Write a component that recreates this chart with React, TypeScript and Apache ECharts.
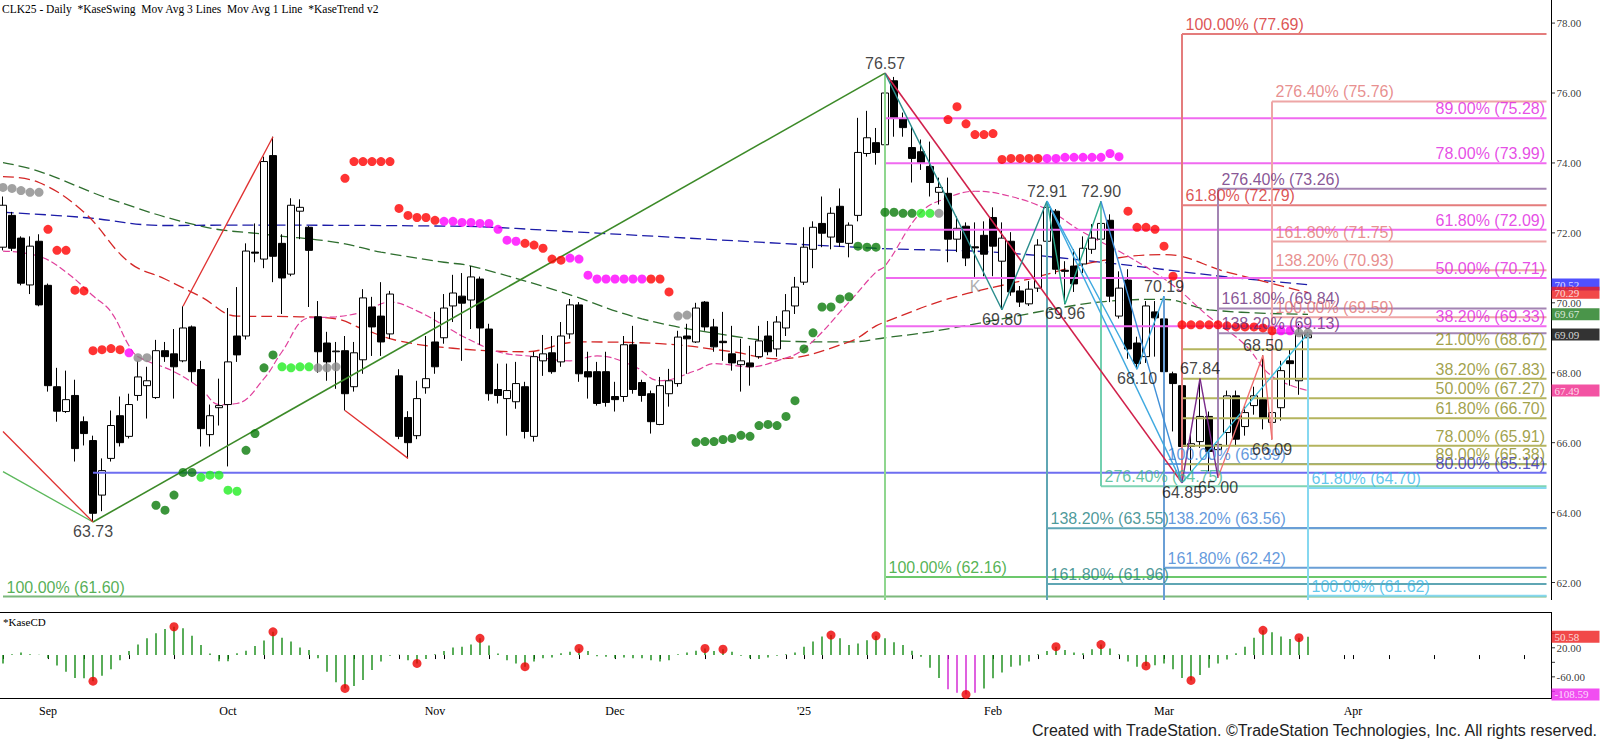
import { useEffect, useRef } from 'react'
import * as echarts from 'echarts'

// ---------- data ----------
const HOLIDAYS = ['2024-09-02', '2024-11-28', '2024-12-25', '2025-01-01', '2025-01-20', '2025-02-17']
const FUTURE_BARS = 26
const MONTHS = ['Jan', 'Feb', 'Mar', 'Apr', 'May', 'Jun', 'Jul', 'Aug', 'Sep', 'Oct', 'Nov', 'Dec']

// [open, high, low, close], one row per trading day from 2024-08-26 to 2025-03-25
const CANDLES: [number, number, number, number][] = [
  [71.59, 73.04, 71.5, 72.79], [72.5, 72.6, 71.48, 71.56], [71.85, 71.9, 70.5, 70.56], [70.51, 71.9, 70.25, 71.62], [71.76, 71.96, 69.9, 69.94],
  [70.5, 70.55, 67.46, 67.63], [67.6, 68.14, 66.6, 66.9], [66.89, 68.06, 66.85, 67.23], [67.35, 67.8, 65.46, 65.83], [66.6, 66.75, 65.92, 66.26],
  [66.06, 66.2, 63.73, 63.98], [64.5, 65.55, 64.04, 65.2], [65.55, 66.92, 65.46, 66.49], [66.77, 67.32, 65.89, 66.0], [66.18, 67.4, 66.12, 67.09],
  [67.35, 68.34, 67.2, 67.88], [67.63, 68.17, 66.69, 67.77], [67.29, 68.94, 67.25, 68.63], [68.63, 68.88, 68.31, 68.46], [68.54, 69.25, 67.26, 68.17],
  [68.34, 69.9, 68.3, 69.28], [69.31, 69.35, 67.74, 68.03], [68.09, 68.34, 65.89, 66.4], [66.23, 67.09, 65.89, 66.77], [67.0, 67.83, 66.49, 67.06],
  [67.09, 69.85, 65.32, 68.31], [69.05, 70.45, 68.31, 68.51], [69.05, 71.7, 68.95, 71.48], [71.45, 72.27, 71.16, 71.42], [71.25, 74.18, 70.99, 74.04],
  [74.21, 74.75, 70.59, 71.33], [71.7, 71.96, 69.68, 70.71], [70.82, 72.99, 70.76, 72.79], [72.62, 72.96, 71.82, 72.73], [72.16, 72.2, 69.88, 71.5],
  [69.6, 70.05, 68.0, 68.6], [68.85, 69.17, 67.77, 68.31], [68.6, 68.88, 67.54, 68.62], [68.63, 69.05, 66.92, 67.4], [67.6, 68.88, 67.46, 68.57],
  [68.37, 70.39, 67.97, 70.14], [69.88, 70.17, 68.48, 69.31], [69.62, 70.59, 68.48, 68.88], [69.11, 70.34, 68.97, 70.25], [67.91, 68.1, 66.1, 66.18],
  [66.72, 66.9, 65.55, 66.0], [66.2, 67.77, 66.1, 67.26], [67.57, 69.05, 67.4, 67.83], [68.88, 69.74, 67.97, 68.17], [69.0, 70.25, 68.83, 69.85],
  [69.91, 70.8, 69.45, 70.28], [70.19, 70.85, 68.34, 69.99], [70.08, 71.05, 69.25, 70.74], [70.68, 70.75, 68.8, 69.28], [69.25, 69.4, 67.2, 67.4],
  [67.52, 68.26, 67.12, 67.35], [67.26, 68.26, 66.2, 67.49], [67.17, 68.31, 66.97, 67.69], [67.6, 67.74, 66.12, 66.32], [66.18, 68.6, 66.03, 68.46],
  [68.34, 69.08, 67.91, 68.54], [68.57, 69.05, 67.97, 68.03], [68.31, 69.45, 68.17, 69.05], [69.11, 70.11, 68.97, 69.94], [69.94, 70.02, 67.74, 67.97],
  [68.03, 68.6, 67.26, 67.88], [68.03, 68.31, 67.06, 67.12], [68.03, 68.6, 67.03, 67.15], [67.32, 67.74, 66.89, 67.23], [67.32, 69.05, 67.17, 68.8],
  [68.8, 69.34, 67.4, 67.52], [67.72, 67.8, 67.17, 67.35], [67.4, 67.49, 66.26, 66.6], [66.52, 67.88, 66.5, 67.63], [67.4, 68.11, 67.03, 67.77],
  [67.69, 69.2, 67.6, 69.02], [69.05, 69.4, 67.97, 68.97], [68.88, 70.0, 68.85, 69.85], [70.02, 70.05, 69.2, 69.31], [69.31, 69.54, 68.6, 68.74],
  [68.9, 69.74, 68.34, 68.86], [68.54, 69.34, 68.06, 68.28], [68.23, 68.97, 67.46, 68.34], [68.28, 68.77, 67.63, 68.17], [68.46, 69.34, 68.4, 68.91],
  [69.05, 69.48, 68.5, 68.6], [68.68, 69.62, 68.46, 69.45], [69.28, 70.25, 69.05, 69.77], [69.91, 70.74, 69.68, 70.45], [70.59, 72.16, 70.51, 71.59],
  [71.53, 72.33, 70.99, 72.16], [72.27, 73.04, 71.59, 71.99], [71.88, 72.73, 71.53, 72.56], [72.76, 73.27, 71.6, 71.73], [71.7, 72.3, 71.3, 72.22],
  [72.5, 75.29, 72.33, 74.3], [74.27, 75.49, 74.18, 74.72], [74.58, 75.0, 73.95, 74.3], [74.52, 76.57, 74.18, 76.0], [76.35, 76.46, 74.75, 75.27],
  [75.27, 75.44, 74.75, 75.01], [74.44, 75.04, 73.44, 74.13], [74.32, 74.67, 73.8, 74.01], [73.9, 74.61, 73.04, 73.44], [73.16, 73.58, 72.81, 73.3],
  [73.13, 73.58, 71.16, 71.82], [71.82, 72.47, 71.45, 72.13], [72.19, 72.3, 71.05, 71.28], [71.6, 72.3, 70.74, 71.57], [71.93, 72.33, 70.76, 71.39],
  [72.44, 72.73, 70.76, 71.62], [71.19, 72.3, 69.8, 71.85], [71.76, 72.02, 70.2, 70.31], [70.34, 70.48, 69.88, 70.02], [69.97, 70.62, 69.91, 70.39],
  [70.42, 71.82, 70.31, 71.65], [71.76, 72.91, 71.6, 72.73], [72.62, 72.68, 70.82, 70.96], [70.93, 71.19, 69.96, 70.9], [71.05, 71.53, 70.31, 70.54],
  [71.11, 71.9, 70.85, 71.56], [71.53, 72.25, 71.4, 71.85], [71.82, 72.9, 71.7, 72.27], [72.36, 72.53, 70.02, 70.19], [69.62, 70.9, 69.55, 70.42],
  [70.65, 70.96, 68.4, 68.68], [68.85, 69.03, 68.1, 68.26], [68.46, 70.05, 68.28, 69.91], [69.74, 70.05, 68.46, 69.57], [69.54, 70.19, 67.54, 68.03],
  [67.97, 68.03, 66.32, 67.69], [67.63, 67.8, 64.85, 65.89], [65.89, 66.3, 65.2, 65.97], [66.03, 67.84, 65.85, 66.75], [66.75, 66.89, 65.18, 65.75],
  [65.8, 66.3, 65.0, 65.95], [66.29, 67.49, 65.9, 67.34], [67.34, 67.49, 65.9, 66.1], [66.46, 67.06, 66.2, 66.86], [67.06, 67.6, 66.8, 67.34],
  [67.23, 68.5, 66.38, 66.69], [66.58, 67.5, 66.09, 66.86], [67.0, 68.34, 66.63, 68.06], [68.34, 68.68, 67.63, 68.26], [67.77, 69.4, 67.37, 69.11],
  [69.0, 69.17, 68.49, 69.09],
]

// moving averages, [bar index, value]
const BLUE_MA = [[0, 72.59], [9, 72.44], [18, 72.21], [25, 72.22], [50, 72.19], [64, 72.02], [97, 71.56], [110, 71.45], [122, 71.16], [136, 70.74], [145, 70.52]]
const GREEN_MA = [[0, 74.01], [4, 73.76], [12, 72.96], [22, 72.19], [29, 71.96], [37, 71.73], [42, 71.45], [49, 71.16], [52, 71.05], [62, 70.31], [71, 69.54], [81, 69.05], [86, 68.91], [94, 68.88], [98, 69.0], [103, 69.17], [111, 69.54], [118, 69.88], [123, 70.05], [129, 70.1], [134, 69.8], [145, 69.67]]
const RED_MA = [[0, 73.61], [4, 73.44], [9, 72.59], [14, 71.16], [18, 70.68], [22, 70.17], [26, 69.62], [33, 69.6], [37, 69.54], [40, 69.25], [44, 68.91], [50, 68.7], [58, 68.6], [64, 68.88], [73, 68.83], [81, 68.6], [86, 68.4], [94, 68.88], [97, 69.34], [98, 69.45], [105, 70.11], [114, 70.68], [122, 71.2], [129, 71.38], [136, 70.88], [145, 70.29]]
const PINK_MA = [[0, 71.48], [4, 71.33], [7, 70.88], [10, 70.2], [12, 69.74], [14, 68.77], [15, 68.46], [19, 68.03], [22, 67.54], [24, 67.09], [26, 67.12], [29, 67.83], [31, 68.6], [34, 69.57], [37, 69.6], [40, 69.74], [43, 70.02], [46, 69.77], [50, 69.2], [51, 69.05], [55, 68.6], [59, 68.46], [63, 68.34], [66, 68.48], [70, 68.2], [73, 67.77], [77, 68.06], [79, 68.26], [83, 68.17], [86, 68.34], [89, 68.68], [94, 70.02], [97, 70.88], [98, 71.05], [102, 72.59], [105, 73.01], [108, 73.19], [112, 73.04], [116, 72.67], [120, 72.02], [125, 71.33], [130, 70.5], [134, 69.6], [138, 68.8], [141, 67.9], [145, 67.49]]

// KaseTrend dots: [bar index, price, colour code]
const DOTS: [number, number, string][] = [
  [0, 73.3, 'k'], [1, 73.27, 'k'], [2, 73.21, 'k'], [3, 73.16, 'k'], [4, 73.16, 'k'],
  [5, 72.1, 'r'], [6, 71.5, 'r'], [7, 71.5, 'r'], [8, 70.36, 'r'], [9, 70.34, 'r'],
  [10, 68.63, 'r'], [11, 68.66, 'r'], [12, 68.69, 'r'], [13, 68.66, 'r'], [14, 68.57, 'm'], [15, 68.43, 'k'], [16, 68.43, 'k'],
  [17, 64.21, 'G'], [18, 64.07, 'G'], [19, 64.5, 'G'], [20, 65.15, 'G'], [21, 65.15, 'G'], [22, 65.01, 'g'], [23, 65.07, 'g'], [24, 65.07, 'g'],
  [25, 64.64, 'g'], [26, 64.61, 'g'], [27, 65.78, 'G'], [28, 66.26, 'G'], [29, 68.14, 'G'], [30, 68.51, 'G'],
  [31, 68.17, 'g'], [32, 68.14, 'g'], [33, 68.17, 'g'], [34, 68.17, 'g'], [35, 68.14, 'k'], [36, 68.14, 'k'], [37, 68.17, 'k'],
  [38, 73.56, 'r'], [39, 74.04, 'r'], [40, 74.04, 'r'], [41, 74.04, 'r'], [42, 74.04, 'r'], [43, 74.04, 'r'],
  [44, 72.7, 'r'], [45, 72.5, 'r'], [46, 72.44, 'r'], [47, 72.44, 'r'], [48, 72.36, 'r'],
  [49, 72.33, 'm'], [50, 72.33, 'm'], [51, 72.3, 'm'], [52, 72.3, 'm'], [53, 72.27, 'm'], [54, 72.27, 'm'], [55, 72.1, 'm'], [56, 71.79, 'm'], [57, 71.76, 'm'],
  [58, 71.7, 'r'], [59, 71.65, 'r'], [60, 71.56, 'r'], [61, 71.25, 'r'], [62, 71.22, 'r'], [63, 71.28, 'm'], [64, 71.25, 'm'], [65, 70.79, 'm'],
  [66, 70.68, 'm'], [67, 70.68, 'm'], [68, 70.68, 'm'], [69, 70.68, 'm'], [70, 70.68, 'm'], [71, 70.68, 'm'], [72, 70.68, 'r'], [73, 70.68, 'r'],
  [74, 70.31, 'r'], [75, 69.62, 'k'], [76, 69.65, 'k'],
  [77, 66.01, 'G'], [78, 66.03, 'G'], [79, 66.03, 'G'], [80, 66.09, 'G'], [81, 66.12, 'G'], [82, 66.21, 'G'], [83, 66.18, 'G'], [84, 66.49, 'G'],
  [85, 66.52, 'G'], [86, 66.49, 'G'], [87, 66.75, 'G'], [88, 67.2, 'G'], [89, 68.68, 'G'], [90, 69.14, 'G'], [91, 69.88, 'G'], [92, 69.88, 'G'],
  [93, 70.11, 'G'], [94, 70.17, 'G'], [95, 71.62, 'G'], [96, 71.59, 'G'], [97, 71.59, 'G'],
  [98, 72.59, 'G'], [99, 72.59, 'G'], [100, 72.56, 'G'], [101, 72.56, 'G'], [102, 72.56, 'g'], [103, 72.56, 'g'], [104, 72.56, 'k'],
  [105, 75.24, 'r'], [106, 75.61, 'r'], [107, 75.12, 'r'], [108, 74.81, 'r'], [109, 74.81, 'r'], [110, 74.84, 'r'],
  [111, 74.1, 'r'], [112, 74.13, 'r'], [113, 74.13, 'r'], [114, 74.13, 'r'], [115, 74.13, 'r'],
  [116, 74.13, 'm'], [117, 74.13, 'm'], [118, 74.16, 'm'], [119, 74.16, 'm'], [120, 74.16, 'm'], [121, 74.16, 'm'], [122, 74.16, 'm'], [123, 74.27, 'm'], [124, 74.18, 'm'],
  [125, 72.62, 'r'], [126, 72.16, 'r'], [127, 72.16, 'r'], [128, 72.1, 'r'], [129, 71.62, 'r'], [130, 70.76, 'r'],
  [131, 69.37, 'r'], [132, 69.37, 'r'], [133, 69.37, 'r'], [134, 69.37, 'r'], [135, 69.37, 'r'], [136, 69.34, 'r'], [137, 69.31, 'r'],
  [138, 69.31, 'r'], [139, 69.31, 'r'], [140, 69.28, 'r'], [141, 69.2, 'r'], [142, 69.2, 'm'], [143, 69.2, 'm'], [144, 69.14, 'k'], [145, 69.14, 'k'],
]

// KaseCD histogram
const KASECD = [
  -23, 2, 7, 2, 1, -9, -29, -46, -63, -64,
  -72, -57, -39, -14, 11, 29, 46, 60, 72, 78,
  74, 53, 28, 4, -17, -17, 5, 12, 25, 40,
  64, 48, 37, 21, 14, -9, -46, -75, -92, -85,
  -69, -41, -18, -2, 1, -14, -23, -11, 2, 11,
  21, 23, 29, 46, 26, 4, -14, -23, -32, -18,
  -9, -7, 5, 9, 18, 11, -3, -5, -9, -7,
  -9, -9, -14, -18, -14, 2, 7, 12, 18, 11,
  16, 9, -2, -9, -11, -7, -2, 2, 7, 23,
  37, 51, 55, 46, 28, 32, 41, 53, 46, 35,
  28, 12, -5, -35, -63, -94, -104, -108.59, -104, -92,
  -64, -48, -32, -29, -18, 2, 11, 23, 14, 7,
  5, 16, 29, 18, 2, -18, -32, -30, -28, -23,
  -39, -63, -70, -55, -35, -23, -12, 5, 23, 48,
  68, 63, 51, 44, 48, 50.58,
]
const KASECD_MAGENTA = [105, 106, 107, 108]
const KASECD_DOTS = [10, 19, 30, 38, 46, 53, 58, 64, 78, 80, 92, 97, 107, 117, 122, 127, 132, 140, 144]

// Fibonacci levels: [label, price]
type Fib = [string, number]
const RED_FIB: Fib[] = [['100.00%', 77.69], ['61.80%', 72.79]]
const SALMON_FIB: Fib[] = [['276.40%', 75.76], ['161.80%', 71.75], ['138.20%', 70.93], ['100.00%', 69.59]]
const MAGENTA_FIB: Fib[] = [['89.00%', 75.28], ['78.00%', 73.99], ['61.80%', 72.09], ['50.00%', 70.71], ['38.20%', 69.33]]
const PURPLE_FIB: Fib[] = [['276.40%', 73.26], ['161.80%', 69.84], ['138.20%', 69.13]]
const OLIVE_FIB: Fib[] = [['21.00%', 68.67], ['38.20%', 67.83], ['50.00%', 67.27], ['61.80%', 66.7], ['78.00%', 65.91], ['89.00%', 65.38]]
const STEEL_FIB: Fib[] = [['100.00%', 65.39], ['138.20%', 63.56], ['161.80%', 62.42]]
const TEAL_FIB: Fib[] = [['138.20%', 63.55], ['161.80%', 61.96]]
const MINT_FIB: Fib[] = [['276.40%', 64.75]]
const CYAN_FIB: Fib[] = [['61.80%', 64.7], ['100.00%', 61.62]]
const GREEN_FIB: Fib[] = [['100.00%', 62.16]]
const BLUE_FIB: Fib[] = [['80.00%', 65.14]]
const LOW_FIB: Fib[] = [['100.00%', 61.6]]

// swing lines, [bar index, price]
const GREEN_SWING_A = [[0, 65.17], [10, 63.73]]
const GREEN_SWING_B = [[10, 63.73], [98, 76.57]]
const RED_SWINGS = [[[0, 66.32], [10, 63.73]], [[20, 69.9], [30, 74.75]], [[38, 66.92], [45, 65.55]]]
const CRIMSON_SWING = [[98, 76.57], [131, 64.85]]
const TEAL_ZIG = [[98, 76.57], [111, 69.8], [116, 72.91]]
const MINT_ZIG = [[116, 72.91], [118, 69.96], [122, 72.9]]
const BLUE_ZIG = [[116, 72.91], [126, 68.1], [129, 70.19]]
const BLUE_LINE_A = [[116, 72.91], [131, 64.85]]
const BLUE_LINE_B = [[122, 72.9], [131, 64.85]]
const CYAN_ZIG = [[131, 64.85], [145, 69.13]]
const PURPLE_ZIG = [[131, 64.85], [133, 67.84], [135, 65.0]]
const SALMON_ZIG = [[135, 65.0], [140, 68.5], [141, 66.09]]

// vertical anchors: [bar index, top price, bottom price]
const VERTICALS: [number, number, number, string][] = [
  [98, 76.57, 61.5, '#8fd68f'],
  [116, 72.91, 61.5, '#5fa6b4'],
  [122, 72.9, 64.75, '#72d0b0'],
  [129, 70.19, 61.5, '#6a9fd6'],
  [131, 77.69, 64.85, '#e47c7c'],
  [135, 73.26, 65.0, '#a384b3'],
  [141, 75.76, 66.09, '#eea6a6'],
  [145, 69.13, 61.5, '#86d8f0'],
]

// swing value labels: [bar index, price, text, above?]
const SWING_LABELS: [number, number, string, boolean][] = [
  [98, 76.57, '76.57', true], [10, 63.73, '63.73', false], [116, 72.91, '72.91', true], [122, 72.9, '72.90', true],
  [111, 69.8, '69.80', false], [118, 69.96, '69.96', false], [126, 68.1, '68.10', false], [129, 70.19, '70.19', true],
  [133, 67.84, '67.84', true], [131, 64.85, '64.85', false], [135, 65.0, '65.00', false], [140, 68.5, '68.50', true],
  [141, 66.09, '66.09', false],
]

const PRICE_TICKS = [62, 64, 66, 68, 70, 72, 74, 76, 78]
const PRICE_TAGS: [number, string][] = [[70.52, '#2424ff'], [70.29, '#ee1c1c'], [69.67, '#1d7a1d'], [69.09, '#000000'], [67.49, '#f0288c']]
const CD_TICKS = [60, 20, -20, -60, -100]
const CD_LABELS = [20, -60]
const CD_TAGS: [number, string][] = [[50.58, '#ee1c1c'], [-108.59, '#ee22ee']]

// ---------- styling ----------
const SERIF = "'Liberation Serif', 'Times New Roman', serif"
const SANS = "'Liberation Sans', Arial, sans-serif"
const DOT_COLORS: Record<string, string> = { r: '#ff0000', m: '#ff00ff', k: '#8a8a8a', G: '#0a7a0a', g: '#22ee22' }
const NCAT = CANDLES.length + FUTURE_BARS
const RIGHT = NCAT - 0.5
const BAND = 9
const GRID_LEFT = -1.5
const AXIS_X = GRID_LEFT + NCAT * BAND + 4.5 // right-hand price scale

function tradingDays(n: number): string[] {
  const out: string[] = []
  const d = new Date(Date.UTC(2024, 7, 26))
  while (out.length < n) {
    const wd = d.getUTCDay()
    const s = d.toISOString().slice(0, 10)
    if (wd !== 0 && wd !== 6 && !HOLIDAYS.includes(s)) out.push(s)
    d.setUTCDate(d.getUTCDate() + 1)
  }
  return out
}

function line(data: number[][], color: string, width = 2, type: any = 'solid', z = 3, smooth: number | boolean = false) {
  return {
    type: 'line', xAxisIndex: 1, yAxisIndex: 0, data, symbol: 'none', silent: true, z, smooth,
    lineStyle: { color, width, type },
  }
}

type Lbl = { x: number; y: number; text: string; color: string; align: string; va: string; dx: number; dy: number; size?: number; font?: string }

function labels(items: Lbl[], z = 7) {
  return {
    type: 'scatter', xAxisIndex: 1, yAxisIndex: 0, z, silent: true, symbolSize: 1,
    itemStyle: { color: 'rgba(0,0,0,0)' },
    data: items.map((it) => ({
      value: [it.x, it.y],
      label: {
        show: true, formatter: it.text, color: it.color, position: [it.dx, it.dy],
        align: it.align, verticalAlign: it.va, fontSize: it.size ?? 16, fontFamily: it.font ?? SANS,
      },
    })),
  }
}

function fibSet(levels: Fib[], from: number, lineColor: string, textColor: string, right: boolean, out: any[], lbls: Lbl[]) {
  for (const [pct, p] of levels) {
    out.push(line([[from, p], [RIGHT, p]], lineColor, 2))
    lbls.push({
      x: right ? RIGHT : from, y: p, text: `${pct} (${p.toFixed(2)})`, color: textColor,
      align: right ? 'right' : 'left', va: 'bottom', dx: right ? -1 : 4, dy: -1,
    })
  }
}

// a right-hand scale drawn as tick marks + labels anchored on the data values
function scaleSeries(xAxisIndex: number, yAxisIndex: number, xAt: number, anchorX: number, ticks: number[], shown: number[]) {
  return {
    type: 'scatter', xAxisIndex, yAxisIndex, silent: true, clip: false, z: 4,
    symbol: 'rect', symbolSize: [4, 1], symbolOffset: [AXIS_X + 2 - anchorX, 0],
    itemStyle: { color: '#000' },
    data: ticks.map((v) => ({
      value: [xAt, v],
      label: {
        show: shown.includes(v), formatter: v.toFixed(2), position: [5.5, 0.5], align: 'left', verticalAlign: 'middle',
        color: '#000', fontSize: 11, fontFamily: SERIF,
      },
    })),
  }
}

function tagSeries(xAxisIndex: number, yAxisIndex: number, xAt: number, anchorX: number, tags: [number, string][]) {
  return {
    type: 'scatter', xAxisIndex, yAxisIndex, z: 8, silent: true, clip: false, symbolSize: 1,
    itemStyle: { color: 'rgba(0,0,0,0)' },
    data: tags.map(([p, c]) => ({
      value: [xAt, p],
      label: {
        show: true, formatter: p.toFixed(2), position: [AXIS_X + 1 - anchorX, 0.5], align: 'left', verticalAlign: 'middle',
        color: '#fff', backgroundColor: c, padding: [1, 2, 0, 3], width: 43, fontSize: 11, fontFamily: SERIF,
      },
    })),
  }
}

function buildOption(): echarts.EChartsOption {
  const dates = tradingDays(NCAT)
  const monthStart = (i: number) => i > 0 && dates[i].slice(5, 7) !== dates[i - 1].slice(5, 7)
  const weekStart = (i: number) => {
    if (i === 0) return true
    const a = new Date(dates[i] + 'T00:00:00Z').getUTCDay()
    const b = new Date(dates[i - 1] + 'T00:00:00Z').getUTCDay()
    return a <= b
  }

  const series: any[] = []
  const lbls: Lbl[] = []

  // moving averages
  series.push(line(BLUE_MA, '#1c1ca8', 1.3, [11, 5], 1, 0.4))
  series.push(line(GREEN_MA, '#2e6e2e', 1.3, [11, 5], 1, 0.4))
  series.push(line(RED_MA, '#d42626', 1.3, [11, 5], 1, 0.4))
  series.push(line(PINK_MA, '#e0409c', 1.2, [7, 3], 1, 0.4))

  // candles
  series.push({
    type: 'candlestick', xAxisIndex: 0, yAxisIndex: 0, z: 2, silent: true, barWidth: 7,
    data: CANDLES.map(([o, h, l, c]) => [o, c, l, h]),
    itemStyle: { color: '#ffffff', color0: '#000000', borderColor: '#000000', borderColor0: '#000000', borderWidth: 1 },
  })

  // fib levels
  fibSet(LOW_FIB, 0, '#7cb87c', '#2a9a2a', false, series, lbls)
  fibSet(GREEN_FIB, 98, '#6cc86c', '#28a028', false, series, lbls)
  fibSet(BLUE_FIB, 10, '#6e6ef0', '#2a2ab4', true, series, lbls)
  fibSet(TEAL_FIB, 116, '#5fa6b4', '#1c8080', false, series, lbls)
  fibSet(MINT_FIB, 122, '#7fd4b4', '#3cb58c', false, series, lbls)
  fibSet(STEEL_FIB, 129, '#6a9fd6', '#3b7fd4', false, series, lbls)
  fibSet(CYAN_FIB, 145, '#86d8f0', '#38b8e8', false, series, lbls)
  fibSet(MAGENTA_FIB, 98, '#f06af0', '#e020e0', true, series, lbls)
  fibSet(OLIVE_FIB, 131, '#b4b45e', '#8a8a1a', true, series, lbls)
  fibSet(RED_FIB, 131, '#e47c7c', '#d42a2a', false, series, lbls)
  fibSet(PURPLE_FIB, 135, '#a384b3', '#6a2a7a', false, series, lbls)
  fibSet(SALMON_FIB, 141, '#eea6a6', '#e27272', false, series, lbls)

  for (const [i, top, bot, c] of VERTICALS) series.push(line([[i, top], [i, bot]], c, 2))

  // swing lines
  series.push(line(GREEN_SWING_A, '#5cb85c', 1.3))
  series.push(line(GREEN_SWING_B, '#3c8a28', 1.6))
  for (const s of RED_SWINGS) series.push(line(s, '#e03030', 1.3))
  series.push(line(CRIMSON_SWING, '#d0204a', 1.6))
  series.push(line(TEAL_ZIG, '#2a8c8c', 1.4))
  series.push(line(MINT_ZIG, '#2aa88a', 1.4))
  series.push(line(BLUE_ZIG, '#3fa9e0', 1.4))
  series.push(line(BLUE_LINE_A, '#3fa9e0', 1.4))
  series.push(line(BLUE_LINE_B, '#3f8fd8', 1.4))
  series.push(line(CYAN_ZIG, '#40c0e0', 1.4))
  series.push(line(PURPLE_ZIG, '#7a2a8a', 1.4))
  series.push(line(SALMON_ZIG, '#f07070', 1.4))

  // KaseTrend dots
  series.push({
    type: 'scatter', xAxisIndex: 1, yAxisIndex: 0, z: 5, silent: true, symbolSize: 9,
    data: DOTS.map(([i, p, c]) => ({ value: [i, p], itemStyle: { color: DOT_COLORS[c] } })),
  })

  // swing labels
  for (const [i, p, t, above] of SWING_LABELS) {
    lbls.push({ x: i, y: p, text: t, color: '#111', align: 'center', va: above ? 'bottom' : 'top', dx: 0.5, dy: above ? -1 : 2 })
  }
  lbls.push({ x: 108, y: 70.45, text: 'K', color: '#999', align: 'center', va: 'middle', dx: 0.5, dy: 0 })
  series.push(labels(lbls))

  // right-hand price scale + tags
  const rightEdgeMain = GRID_LEFT + NCAT * BAND
  series.push(scaleSeries(1, 0, RIGHT, rightEdgeMain, PRICE_TICKS, PRICE_TICKS))
  series.push(tagSeries(1, 0, RIGHT, rightEdgeMain, PRICE_TAGS))

  // KaseCD
  series.push({
    type: 'bar', xAxisIndex: 2, yAxisIndex: 1, silent: true, barWidth: 1.4, z: 2,
    data: KASECD.map((v, i) => ({ value: v, itemStyle: { color: KASECD_MAGENTA.includes(i) ? '#d21ed2' : '#138a13' } })),
  })
  series.push({
    type: 'scatter', xAxisIndex: 2, yAxisIndex: 1, silent: true, symbolSize: 9, z: 3,
    itemStyle: { color: '#ee0000' },
    data: KASECD_DOTS.map((i) => [i, KASECD[i]]),
  })
  const lastCenter = GRID_LEFT + (NCAT - 0.5) * BAND
  series.push(scaleSeries(2, 1, NCAT - 1, lastCenter, CD_TICKS, CD_LABELS))
  series.push(tagSeries(2, 1, NCAT - 1, lastCenter, CD_TAGS))

  const gridW = NCAT * BAND

  return {
    animation: false,
    backgroundColor: '#ffffff',
    textStyle: { fontFamily: SANS },
    grid: [
      { left: GRID_LEFT, top: 0, width: gridW, height: 600, containLabel: false, outerBoundsMode: 'none' },
      { left: GRID_LEFT, top: 612, width: gridW, height: 86, containLabel: false, outerBoundsMode: 'none' },
    ],
    xAxis: [
      { type: 'category', gridIndex: 0, data: dates, show: false, boundaryGap: true },
      { type: 'value', gridIndex: 0, min: -0.5, max: RIGHT, show: false },
      {
        type: 'category', gridIndex: 1, data: dates, boundaryGap: true,
        axisLine: { show: false },
        axisTick: { show: true, alignWithLabel: true, length: 4, interval: (i: number) => weekStart(i) || monthStart(i), lineStyle: { color: '#000' } },
        axisLabel: {
          interval: (i: number) => monthStart(i), color: '#000', fontFamily: SERIF, fontSize: 12, margin: 7,
          formatter: (v: string) => {
            const m = Number(v.slice(5, 7)) - 1
            return m === 0 ? "'" + v.slice(2, 4) : MONTHS[m]
          },
        },
        splitLine: { show: false },
      },
    ],
    yAxis: [
      { type: 'value', gridIndex: 0, min: 61.5, max: 78.66, show: false },
      { type: 'value', gridIndex: 1, min: -118.3, max: 118.6, show: false },
    ],
    graphic: [
      {
        type: 'text', x: 2, y: 3,
        style: { text: 'CLK25 - Daily  *KaseSwing  Mov Avg 3 Lines  Mov Avg 1 Line  *KaseTrend v2', font: `11.5px ${SERIF}`, fill: '#000', verticalAlign: 'top', textVerticalAlign: 'top' },
      },
      {
        type: 'text', x: 3, y: 616,
        style: { text: '*KaseCD', font: `11px ${SERIF}`, fill: '#000', verticalAlign: 'top', textVerticalAlign: 'top' },
      },
      {
        type: 'text', x: 1597, y: 730,
        style: {
          text: 'Created with TradeStation. ©TradeStation Technologies, Inc. All rights reserved.',
          font: `16px 'Liberation Sans', Arial, sans-serif`, fill: '#222',
          align: 'right', textAlign: 'right', verticalAlign: 'middle', textVerticalAlign: 'middle',
        },
      },
      { type: 'line', shape: { x1: 0, y1: 612.5, x2: AXIS_X, y2: 612.5 }, style: { stroke: '#000', lineWidth: 1 } },
      { type: 'line', shape: { x1: 0, y1: 698.5, x2: AXIS_X, y2: 698.5 }, style: { stroke: '#000', lineWidth: 1 } },
      { type: 'line', shape: { x1: AXIS_X + 0.5, y1: 0, x2: AXIS_X + 0.5, y2: 600 }, style: { stroke: '#000', lineWidth: 1 } },
      { type: 'line', shape: { x1: AXIS_X + 0.5, y1: 612, x2: AXIS_X + 0.5, y2: 699 }, style: { stroke: '#000', lineWidth: 1 } },
    ],
    series,
  }
}

export default function App() {
  const ref = useRef<HTMLDivElement>(null)

  useEffect(() => {
    const el = ref.current
    if (!el) return
    const chart = echarts.init(el, undefined, { renderer: 'svg' })
    chart.setOption(buildOption())
    return () => chart.dispose()
  }, [])

  return (
    <div style={{ position: 'fixed', left: 0, top: 0, width: 1600, height: 739, background: '#fff' }}>
      <div ref={ref} style={{ width: 1600, height: 739 }} />
    </div>
  )
}
